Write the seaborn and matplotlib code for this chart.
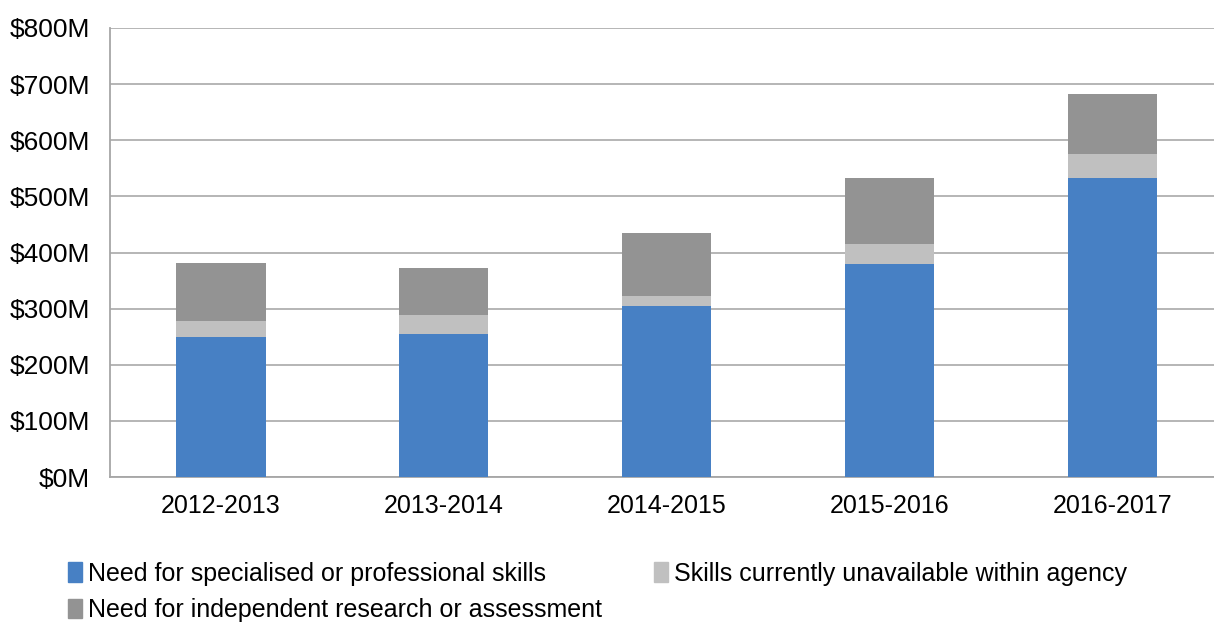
import matplotlib
matplotlib.use("Agg")
import matplotlib.pyplot as plt
import seaborn as sns
import pandas as pd
import numpy as np
from matplotlib.patches import Patch
from matplotlib.ticker import FuncFormatter

# 数据（单位：百万美元）
years = ["2012-2013", "2013-2014", "2014-2015", "2015-2016", "2016-2017"]
specialised = [249, 255, 304, 379, 533]
unavailable = [29, 33, 18, 36, 42]
independent = [104, 85, 112, 117, 107]

labels = [
    "Need for specialised or professional skills",
    "Skills currently unavailable within agency",
    "Need for independent research or assessment",
]
colors = ["#4780C4", "#C0C0C0", "#939393"]

sns.set_theme(style="white")
plt.rcParams["font.family"] = ["Liberation Sans", "DejaVu Sans"]
plt.rcParams["text.color"] = "black"

df = pd.DataFrame({"year": years, "s": specialised, "u": unavailable, "i": independent})
df["c1"] = df["s"]
df["c2"] = df["s"] + df["u"]
df["c3"] = df["c2"] + df["i"]

fig = plt.figure(figsize=(12.14, 6.22), dpi=100)
ax = fig.add_axes([0.0902, 0.2331, 0.918, 0.7219])

# 从上往下叠画累积值
for col, color in zip(["c3", "c2", "c1"], colors[::-1]):
    sns.barplot(data=df, x="year", y=col, color=color, width=0.4,
                saturation=1, linewidth=0, edgecolor="none", ax=ax, zorder=3)

ax.set_ylim(0, 800)
ax.set_xlim(-0.5, 4.5)
ax.set_yticks(np.arange(0, 801, 100))
ax.yaxis.set_major_formatter(FuncFormatter(lambda v, p: f"${int(v)}M"))
ax.grid(axis="y", color="#B0B0B0", linewidth=1.3, zorder=0)
ax.set_xlabel("")
ax.set_ylabel("")
for side in ["top", "right"]:
    ax.spines[side].set_visible(False)
for side in ["left", "bottom"]:
    ax.spines[side].set_color("#A6A6A6")
    ax.spines[side].set_linewidth(1.3)
ax.tick_params(axis="both", length=0, labelsize=18, colors="black")
ax.tick_params(axis="y", labelsize=19, pad=14)
ax.tick_params(axis="x", pad=12)

handles = [Patch(color=c) for c in colors]
order = [0, 2, 1]
fig.legend([handles[k] for k in order], [labels[k] for k in order],
           ncol=2, loc="upper left", bbox_to_anchor=(0.056, 0.097),
           frameon=False, fontsize=18, handlelength=0.55, handleheight=0.8,
           handletextpad=0.25, columnspacing=2.1, labelspacing=0.5,
           borderaxespad=0, borderpad=0)

fig.savefig("out.png", dpi=100)
